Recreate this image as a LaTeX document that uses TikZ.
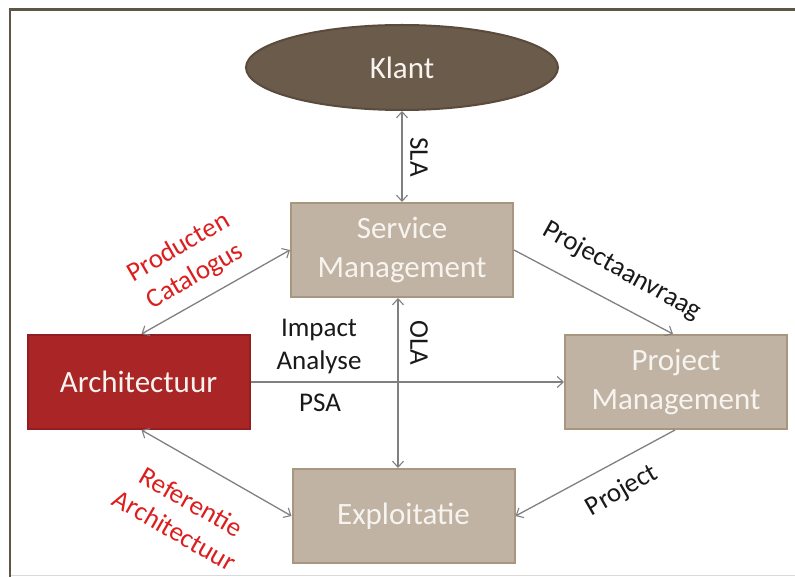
\documentclass[tikz,border=0pt]{standalone}
\usepackage{fontspec}
\setmainfont{Carlito}
\usetikzlibrary{arrows.meta,shapes.geometric}
\definecolor{klantfill}{HTML}{6B5B4B}
\definecolor{klantdraw}{HTML}{5A4B3C}
\definecolor{boxfill}{HTML}{C0B3A3}
\definecolor{boxdraw}{HTML}{A8977F}
\definecolor{archfill}{HTML}{A92526}
\definecolor{archdraw}{HTML}{921E20}
\definecolor{lblred}{HTML}{DC1E1E}
\definecolor{linegray}{HTML}{808080}
\definecolor{framec}{HTML}{5E5549}
\definecolor{boxtext}{HTML}{F7F4F0}
\tikzset{
  mainbox/.style={draw=boxdraw, fill=boxfill, line width=2pt, minimum width=222pt, minimum height=94pt,
    inner sep=0pt, align=center, text=boxtext, font=\fontsize{31}{39}\selectfont},
  archbox/.style={mainbox, draw=archdraw, fill=archfill},
  klantnode/.style={ellipse, draw=klantdraw, fill=klantfill, line width=2pt, minimum width=312pt,
    minimum height=85pt, inner sep=0pt, text=boxtext, font=\fontsize{31}{39}\selectfont},
  conn/.style={draw=linegray, line width=1.3pt},
  tip/.style={-{Straight Barb[length=6pt,width=11pt,line width=1.1pt]}},
  bitip/.style={{Straight Barb[length=6pt,width=11pt,line width=1.1pt]}-{Straight Barb[length=6pt,width=11pt,line width=1.1pt]}},
  lbl/.style={font=\fontsize{27}{33}\selectfont, align=center, text=black!90, inner sep=0pt},
  redlbl/.style={lbl, text=lblred},
}
\begin{document}
\begin{tikzpicture}[x=1pt,y=-1pt]
\useasboundingbox (0,0) rectangle (795,577);
% frame
\draw[draw=black!15, line width=1pt] (10,575.5) -- (795,575.5);
\draw[draw=framec, line width=2.6pt] (10,577) -- (10,9.5) -- (795,9.5);
% nodes
\node[klantnode] (klant) at (402,67.5) {Klant};
\node[mainbox] (sm) at (402,250) {Service\\Management};
\node[mainbox] (pm) at (676,382) {Project\\Management};
\node[archbox] (arch) at (138.5,382) {Architectuur};
\node[mainbox] (expl) at (403.5,516) {Exploitatie};
% connectors
\draw[conn, bitip] (klant.south) -- (sm.north);
\draw[conn, bitip] ([xshift=-4pt]sm.south) -- ([xshift=-5.5pt]expl.north);
\draw[conn, tip] (arch.east) -- (pm.west);
\draw[conn, bitip] ([xshift=3pt]arch.north) -- (sm.west);
\draw[conn, bitip] ([xshift=3pt]arch.south) -- (expl.west);
\draw[conn, tip] (sm.east) -- ([xshift=-3pt]pm.north);
\draw[conn, tip] ([xshift=-1pt]pm.south) -- (expl.east);
% labels
\node[lbl, rotate=-90] (sla) at (419,157) {SLA};
\node[lbl, rotate=-90] (ola) at (419,343) {OLA};
\node[lbl] (impact) at (319,347) {Impact\\Analyse};
\node[lbl] (psa) at (320,403) {PSA};
\node[redlbl, rotate=30] (prod) at (187,262) {Producten\\Catalogus};
\node[redlbl, rotate=-30] (ref) at (183,516) {Referentie\\Architectuur};
\node[lbl, rotate=-29] (paanv) at (622,271) {Projectaanvraag};
\node[lbl, rotate=30] (proj) at (622,491) {Project};
\end{tikzpicture}
\end{document}
